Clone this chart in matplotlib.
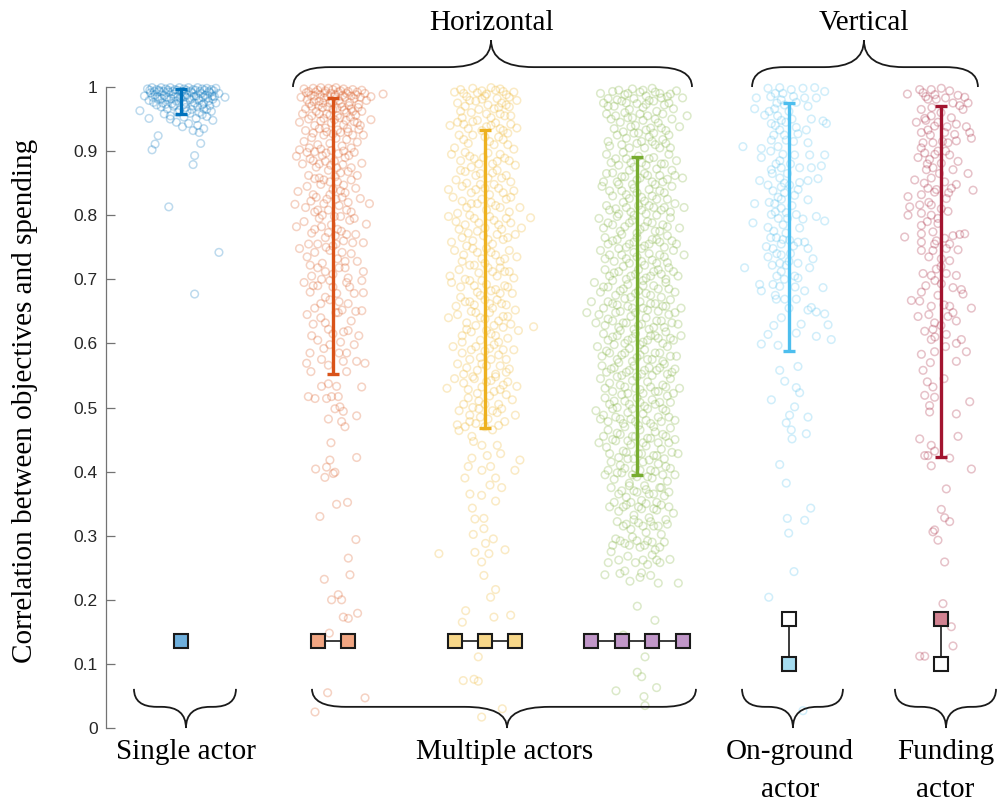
import numpy as np
import matplotlib
matplotlib.use("Agg")
import matplotlib.pyplot as plt
from matplotlib.path import Path
from matplotlib.patches import PathPatch

# group positions, colours and the plotted interval of each group
group_pos = [1, 2, 3, 4, 5, 6]
bar_colors = ["#0072BD", "#D95319", "#EDB120", "#77AC30", "#4DBEEE", "#A2142F"]
interval_low = [0.958, 0.552, 0.468, 0.395, 0.588, 0.423]
interval_high = [0.997, 0.983, 0.933, 0.891, 0.975, 0.970]

# scatter points per group as (x jitter, correlation)
single_pts = [
    (-0.22, 0.997), (-0.19, 0.999), (-0.16, 0.996), (-0.13, 0.999), (-0.10, 0.997), (-0.07, 0.999), (-0.04, 0.996),
    (-0.01, 0.999), (0.02, 0.997), (0.05, 0.999), (0.08, 0.996), (0.11, 0.999), (0.14, 0.997), (0.17, 0.998),
    (0.20, 0.996), (0.23, 0.998), (-0.24, 0.986), (-0.20, 0.991), (-0.17, 0.988), (-0.14, 0.993), (-0.11, 0.987),
    (-0.08, 0.992), (-0.05, 0.989), (-0.02, 0.985), (0.01, 0.993), (0.04, 0.988), (0.07, 0.991), (0.10, 0.986),
    (0.13, 0.990), (0.16, 0.987), (0.19, 0.991), (0.22, 0.985), (0.25, 0.990), (-0.21, 0.979), (-0.18, 0.976),
    (-0.15, 0.981), (-0.12, 0.975), (-0.09, 0.980), (-0.06, 0.974), (-0.03, 0.978), (0.00, 0.982), (0.03, 0.976),
    (0.06, 0.980), (0.09, 0.975), (0.12, 0.979), (0.15, 0.974), (0.18, 0.978), (0.21, 0.981), (0.23, 0.975),
    (-0.13, 0.969), (-0.09, 0.966), (-0.05, 0.970), (-0.01, 0.964), (0.03, 0.968), (0.07, 0.965), (0.11, 0.969),
    (0.15, 0.966), (0.19, 0.971), (-0.11, 0.958), (-0.07, 0.955), (0.02, 0.953), (0.06, 0.959), (0.10, 0.951),
    (0.14, 0.957), (0.17, 0.954), (0.20, 0.962), (0.21, 0.948), (-0.03, 0.945), (0.01, 0.938), (0.05, 0.943),
    (0.08, 0.932), (0.11, 0.940), (0.15, 0.935), (-0.07, 0.950), (0.12, 0.929), (-0.27, 0.963), (-0.21, 0.951),
    (-0.15, 0.924), (-0.17, 0.911), (-0.19, 0.902), (0.13, 0.912), (0.09, 0.893), (0.08, 0.879), (-0.08, 0.813),
    (0.25, 0.742), (0.09, 0.677), (0.29, 0.984),
    (-0.205, 0.995), (-0.175, 0.993), (-0.145, 0.995), (-0.115, 0.993), (-0.085, 0.995), (-0.055, 0.993),
    (-0.025, 0.995), (0.005, 0.993), (0.035, 0.995), (0.065, 0.993), (0.095, 0.995), (0.125, 0.993),
    (0.155, 0.995), (0.185, 0.993), (0.215, 0.994), (-0.185, 0.984), (-0.155, 0.985), (-0.125, 0.982),
    (-0.095, 0.984), (-0.065, 0.982), (-0.035, 0.985), (-0.005, 0.983), (0.025, 0.985), (0.055, 0.983),
    (0.085, 0.985), (0.115, 0.982), (0.145, 0.984), (0.175, 0.983), (0.205, 0.986), (-0.16, 0.972),
    (-0.10, 0.973), (-0.04, 0.972), (0.02, 0.973), (0.08, 0.971), (0.14, 0.972), (0.17, 0.965),
    (-0.02, 0.960), (0.04, 0.962), (0.12, 0.960),
]

orange_pts = [
    (-0.19, 0.997), (-0.16, 0.993), (-0.13, 0.998), (-0.10, 0.995), (-0.08, 0.999), (-0.05, 0.994), (-0.03, 0.998),
    (0.00, 0.996), (0.02, 0.999), (0.05, 0.994), (0.07, 0.997), (0.10, 0.993), (0.13, 0.996), (0.16, 0.992),
    (0.19, 0.995), (0.21, 0.990), (0.33, 0.989), (-0.21, 0.984), (-0.17, 0.980), (-0.12, 0.986), (-0.09, 0.978),
    (-0.06, 0.983), (-0.02, 0.975), (0.01, 0.985), (0.04, 0.979), (0.08, 0.984), (0.11, 0.976), (0.14, 0.982),
    (0.17, 0.973), (0.22, 0.979), (0.25, 0.985), (-0.18, 0.966), (-0.14, 0.970), (-0.11, 0.962), (-0.07, 0.968),
    (-0.04, 0.958), (0.00, 0.965), (0.03, 0.955), (0.06, 0.969), (0.09, 0.960), (0.12, 0.966), (0.15, 0.956),
    (0.19, 0.962), (0.25, 0.949), (-0.22, 0.945), (-0.16, 0.950), (-0.12, 0.940), (-0.08, 0.947), (-0.05, 0.936),
    (-0.01, 0.944), (0.03, 0.933), (0.07, 0.941), (0.10, 0.930), (0.14, 0.946), (0.17, 0.934), (0.20, 0.925),
    (-0.24, 0.892), (-0.22, 0.902), (-0.19, 0.915), (-0.14, 0.921), (-0.10, 0.910), (-0.06, 0.925), (-0.02, 0.912),
    (0.02, 0.920), (0.06, 0.908), (0.09, 0.918), (0.12, 0.905), (0.16, 0.914), (-0.17, 0.898), (-0.20, 0.880),
    (-0.15, 0.888), (-0.11, 0.875), (-0.07, 0.893), (-0.03, 0.870), (0.01, 0.884), (0.05, 0.866), (0.08, 0.890),
    (0.12, 0.874), (0.16, 0.862), (0.19, 0.881), (-0.09, 0.858), (0.03, 0.852), (-0.25, 0.817), (-0.23, 0.837),
    (-0.17, 0.845), (-0.13, 0.832), (-0.08, 0.848), (-0.04, 0.825), (0.00, 0.840), (0.04, 0.815), (0.08, 0.835),
    (0.12, 0.805), (0.15, 0.842), (0.24, 0.818), (-0.10, 0.808), (0.06, 0.828), (-0.18, 0.812), (0.18, 0.826),
    (-0.24, 0.782), (-0.19, 0.790), (-0.14, 0.772), (-0.09, 0.795), (-0.05, 0.765), (-0.01, 0.785), (0.03, 0.778),
    (0.07, 0.760), (0.11, 0.792), (0.15, 0.770), (0.22, 0.786), (-0.16, 0.755), (0.00, 0.752), (0.05, 0.798),
    (0.13, 0.757), (0.20, 0.757), (-0.22, 0.748), (-0.17, 0.735), (-0.12, 0.742), (-0.07, 0.725), (-0.02, 0.745),
    (0.03, 0.732), (0.08, 0.718), (0.12, 0.740), (0.16, 0.728), (0.20, 0.712), (-0.14, 0.705), (0.00, 0.708),
    (0.10, 0.702), (-0.19, 0.695), (-0.15, 0.680), (-0.10, 0.690), (-0.05, 0.672), (0.00, 0.688), (0.04, 0.665),
    (0.09, 0.695), (0.14, 0.678), (0.19, 0.698), (-0.12, 0.655), (0.06, 0.652), (0.20, 0.679), (-0.17, 0.645),
    (-0.13, 0.630), (-0.08, 0.640), (-0.03, 0.622), (0.02, 0.648), (0.07, 0.618), (0.12, 0.635), (0.17, 0.612),
    (-0.10, 0.605), (0.05, 0.602), (0.19, 0.651), (-0.06, 0.592),
    (-0.175, 0.991), (-0.145, 0.987), (-0.115, 0.992), (-0.085, 0.988), (-0.055, 0.991), (-0.035, 0.985),
    (-0.015, 0.990), (0.015, 0.988), (0.035, 0.992), (0.065, 0.987), (0.09, 0.990), (0.12, 0.986),
    (0.15, 0.988), (0.18, 0.984), (-0.155, 0.974), (-0.125, 0.977), (-0.095, 0.971), (-0.065, 0.975),
    (-0.035, 0.969), (-0.005, 0.976), (0.025, 0.967), (0.05, 0.974), (0.075, 0.964), (0.105, 0.971),
    (0.13, 0.962), (0.165, 0.968), (-0.20, 0.958), (-0.14, 0.955), (-0.09, 0.958), (-0.06, 0.951),
    (-0.02, 0.956), (0.01, 0.949), (0.045, 0.952), (0.085, 0.948), (0.115, 0.953), (0.16, 0.944),
    (-0.18, 0.932), (-0.13, 0.928), (-0.09, 0.935), (-0.04, 0.930), (0.00, 0.927), (0.05, 0.929),
    (0.095, 0.935), (0.13, 0.925), (0.18, 0.940), (-0.155, 0.905), (-0.12, 0.899), (-0.08, 0.903),
    (-0.045, 0.897), (-0.01, 0.901), (0.035, 0.896), (0.07, 0.900), (0.105, 0.893), (0.14, 0.898),
    (-0.13, 0.885), (-0.09, 0.880), (-0.05, 0.884), (-0.015, 0.878), (0.025, 0.874), (0.065, 0.879),
    (0.10, 0.868), (-0.16, 0.862), (-0.12, 0.857), (-0.06, 0.855), (-0.02, 0.852), (0.015, 0.860),
    (0.07, 0.847), (0.12, 0.855), (-0.145, 0.822), (-0.11, 0.828), (-0.06, 0.818), (-0.02, 0.832),
    (0.02, 0.825), (0.05, 0.838), (0.10, 0.820), (-0.12, 0.805), (-0.07, 0.800), (-0.03, 0.808),
    (0.01, 0.798), (0.09, 0.808), (0.14, 0.795), (-0.12, 0.778), (-0.075, 0.782), (-0.03, 0.773),
    (0.015, 0.768), (0.055, 0.775), (0.09, 0.770), (-0.10, 0.755), (-0.045, 0.750), (0.02, 0.755),
    (0.06, 0.742), (-0.15, 0.722), (-0.10, 0.718), (-0.05, 0.712), (0.04, 0.718), (0.08, 0.728),
    (-0.13, 0.690), (-0.075, 0.700), (-0.02, 0.698), (0.025, 0.678), (0.11, 0.688), (-0.08, 0.662),
    (-0.02, 0.668), (0.035, 0.648), (0.10, 0.662), (0.15, 0.650), (-0.05, 0.632), (0.00, 0.615),
    (0.10, 0.620), (-0.14, 0.612), (0.09, 0.585), (0.14, 0.598), (-0.02, 0.598), (0.04, 0.585),
    (-0.173, 0.569), (-0.151, 0.585), (-0.145, 0.556), (-0.075, 0.575), (-0.030, 0.566), (0.068, 0.572),
    (0.090, 0.556), (0.156, 0.572), (0.211, 0.569), (-0.075, 0.533), (-0.030, 0.537), (0.024, 0.533),
    (-0.162, 0.517), (-0.118, 0.514), (-0.042, 0.514), (-0.009, 0.517), (0.035, 0.517), (0.046, 0.501),
    (0.013, 0.498), (0.068, 0.494), (0.189, 0.532), (-0.030, 0.482), (0.057, 0.478), (0.079, 0.470),
    (0.156, 0.487), (-0.013, 0.445), (-0.020, 0.418), (0.156, 0.422), (-0.114, 0.404), (-0.042, 0.407),
    (0.013, 0.399), (-0.053, 0.391), (0.002, 0.397), (0.024, 0.349), (0.096, 0.352), (-0.086, 0.330),
    (0.151, 0.294), (0.101, 0.265), (0.112, 0.239), (-0.057, 0.232), (0.035, 0.208), (-0.009, 0.200),
    (0.057, 0.200), (0.162, 0.179), (0.068, 0.173), (0.101, 0.171), (-0.024, 0.148), (-0.035, 0.055),
    (0.211, 0.047), (-0.118, 0.025),
]

yellow_pts = [
    (-0.20, 0.992), (-0.16, 0.996), (-0.08, 0.998), (-0.02, 0.994), (0.04, 0.999), (0.07, 0.995), (0.10, 0.997),
    (0.14, 0.988), (0.19, 0.992), (-0.12, 0.985), (0.00, 0.986), (0.08, 0.982), (-0.18, 0.975), (-0.13, 0.970),
    (-0.06, 0.978), (0.02, 0.972), (0.06, 0.966), (0.11, 0.975), (0.16, 0.969), (0.21, 0.979), (-0.09, 0.960),
    (0.13, 0.955), (-0.15, 0.952), (0.04, 0.952), (-0.23, 0.940), (-0.18, 0.945), (-0.11, 0.935), (-0.05, 0.948),
    (0.01, 0.938), (0.07, 0.944), (0.12, 0.932), (0.17, 0.942), (0.21, 0.936), (-0.14, 0.918), (-0.08, 0.925),
    (0.03, 0.915), (0.09, 0.922), (0.15, 0.910), (-0.20, 0.905), (0.19, 0.903), (-0.22, 0.895), (-0.16, 0.885),
    (-0.10, 0.892), (-0.04, 0.880), (0.02, 0.897), (0.08, 0.884), (0.13, 0.889), (0.20, 0.878), (-0.13, 0.868),
    (-0.06, 0.862), (0.05, 0.866), (0.11, 0.858), (0.17, 0.852), (-0.19, 0.855), (-0.24, 0.840), (-0.21, 0.828),
    (-0.15, 0.845), (-0.09, 0.835), (-0.03, 0.848), (0.03, 0.832), (0.09, 0.842), (0.14, 0.825), (0.19, 0.838),
    (-0.12, 0.812), (-0.05, 0.818), (0.01, 0.808), (0.07, 0.815), (0.16, 0.805), (0.23, 0.812), (-0.18, 0.803),
    (-0.24, 0.798), (-0.19, 0.790), (-0.13, 0.785), (-0.07, 0.795), (0.00, 0.780), (0.06, 0.792), (0.11, 0.778),
    (0.17, 0.788), (0.30, 0.796), (0.24, 0.780), (-0.15, 0.765), (-0.08, 0.760), (-0.01, 0.768), (0.05, 0.755),
    (0.12, 0.762), (0.20, 0.770), (-0.22, 0.758), (-0.20, 0.745), (-0.14, 0.738), (-0.08, 0.748), (-0.02, 0.732),
    (0.04, 0.742), (0.10, 0.728), (0.16, 0.745), (0.21, 0.735), (-0.17, 0.715), (-0.10, 0.722), (-0.04, 0.710),
    (0.02, 0.718), (0.08, 0.705), (0.13, 0.712), (0.19, 0.702), (-0.23, 0.705), (-0.22, 0.695), (-0.16, 0.688),
    (-0.10, 0.698), (-0.05, 0.680), (0.01, 0.692), (0.07, 0.684), (0.13, 0.690), (0.18, 0.678), (-0.13, 0.665),
    (-0.07, 0.660), (0.00, 0.668), (0.05, 0.655), (0.11, 0.662), (0.20, 0.652), (-0.19, 0.658), (-0.24, 0.640),
    (-0.18, 0.645), (-0.12, 0.632), (-0.06, 0.648), (0.00, 0.638), (0.06, 0.628), (0.12, 0.642), (0.17, 0.630),
    (0.32, 0.626), (-0.15, 0.612), (-0.09, 0.618), (-0.03, 0.605), (0.04, 0.615), (0.09, 0.602), (0.15, 0.608),
    (0.22, 0.620), (-0.21, 0.595), (-0.15, 0.585), (-0.09, 0.590), (-0.03, 0.578), (0.03, 0.592), (0.09, 0.582),
    (0.14, 0.575), (0.19, 0.590), (-0.12, 0.562), (-0.05, 0.558), (0.01, 0.565), (0.07, 0.552), (0.16, 0.560),
    (-0.18, 0.568), (-0.20, 0.545), (-0.14, 0.538), (-0.08, 0.548), (-0.02, 0.532), (0.04, 0.542), (0.10, 0.528),
    (0.15, 0.540), (0.21, 0.533), (-0.11, 0.515), (-0.04, 0.510), (0.03, 0.518), (0.09, 0.505), (0.18, 0.512),
    (-0.25, 0.530), (-0.17, 0.495), (-0.10, 0.488), (-0.04, 0.498), (0.02, 0.482), (0.08, 0.492), (0.13, 0.478),
    (0.20, 0.488), (-0.13, 0.470), (-0.06, 0.475), (0.05, 0.465),
    (-0.14, 0.990), (-0.05, 0.991), (0.01, 0.989), (0.12, 0.993), (0.16, 0.984), (-0.10, 0.979), (-0.02, 0.981),
    (0.09, 0.968), (0.14, 0.972), (-0.16, 0.962), (-0.04, 0.965), (0.01, 0.958), (0.10, 0.958), (0.17, 0.955),
    (-0.14, 0.942), (-0.08, 0.946), (-0.02, 0.932), (0.04, 0.940), (0.10, 0.935), (0.15, 0.928), (-0.17, 0.925),
    (-0.11, 0.912), (0.00, 0.922), (0.06, 0.910), (0.12, 0.918), (-0.13, 0.898), (-0.07, 0.888), (-0.01, 0.890),
    (0.05, 0.880), (0.10, 0.895), (0.16, 0.885), (-0.16, 0.870), (-0.09, 0.875), (-0.03, 0.865), (0.02, 0.858),
    (0.08, 0.870), (0.14, 0.862), (-0.12, 0.850), (-0.06, 0.840), (0.00, 0.842), (0.06, 0.848), (0.12, 0.835),
    (0.17, 0.828), (-0.15, 0.822), (-0.09, 0.818), (-0.02, 0.825), (0.04, 0.820), (0.10, 0.812), (-0.10, 0.800),
    (-0.04, 0.788), (0.03, 0.798), (0.09, 0.785), (0.14, 0.795), (-0.17, 0.778), (-0.11, 0.772), (-0.05, 0.775),
    (0.02, 0.762), (0.08, 0.770), (0.15, 0.765), (-0.12, 0.752), (-0.05, 0.742), (0.01, 0.748), (0.07, 0.738),
    (0.13, 0.732), (-0.15, 0.728), (-0.07, 0.722), (0.00, 0.725), (0.05, 0.712), (0.10, 0.718), (0.16, 0.712),
    (-0.13, 0.700), (-0.07, 0.690), (-0.02, 0.698), (0.04, 0.682), (0.10, 0.678), (0.15, 0.688), (-0.16, 0.672),
    (-0.10, 0.665), (-0.03, 0.675), (0.03, 0.662), (0.08, 0.668), (0.14, 0.660), (-0.09, 0.650), (-0.03, 0.640),
    (0.03, 0.648), (0.09, 0.635), (0.15, 0.642), (-0.12, 0.622), (-0.06, 0.628), (0.01, 0.620), (0.07, 0.612),
    (0.12, 0.625), (-0.15, 0.602), (-0.06, 0.595), (0.00, 0.588), (0.06, 0.598), (0.12, 0.590), (-0.10, 0.575),
    (-0.02, 0.568), (0.04, 0.575), (0.10, 0.565), (0.14, 0.555), (-0.14, 0.552), (-0.07, 0.545), (0.01, 0.540),
    (0.07, 0.548), (0.12, 0.535), (-0.11, 0.528), (-0.05, 0.522), (0.06, 0.525), (0.14, 0.520), (-0.14, 0.505),
    (-0.08, 0.500), (0.00, 0.505), (0.05, 0.495), (0.11, 0.498), (-0.10, 0.478), (0.00, 0.470), (0.09, 0.472),
    (-0.03, 0.485),
    (-0.182, 0.473), (-0.171, 0.464), (-0.086, 0.455), (-0.075, 0.447), (-0.020, 0.441), (0.081, 0.441),
    (-0.086, 0.421), (0.015, 0.425), (0.103, 0.428), (0.230, 0.418), (-0.110, 0.408), (-0.020, 0.402),
    (0.037, 0.408), (0.070, 0.390), (0.197, 0.402), (-0.132, 0.390), (0.033, 0.379), (0.110, 0.375),
    (-0.099, 0.365), (-0.022, 0.363), (0.070, 0.354), (-0.083, 0.343), (-0.066, 0.326), (-0.007, 0.327),
    (-0.007, 0.311), (-0.077, 0.302), (0.055, 0.295), (0.004, 0.288), (-0.303, 0.272), (-0.066, 0.274),
    (0.026, 0.272), (0.132, 0.278), (-0.022, 0.259), (-0.007, 0.238), (0.037, 0.204), (0.070, 0.216),
    (-0.127, 0.183), (-0.149, 0.165), (0.059, 0.173), (0.169, 0.176), (-0.044, 0.111), (-0.143, 0.074),
    (-0.072, 0.076), (-0.044, 0.073), (0.114, 0.030), (-0.022, 0.017),
]

green_pts = [
    (-0.24, 0.990), (-0.19, 0.982), (-0.12, 0.995), (-0.08, 0.988), (-0.03, 0.997), (0.02, 0.992), (0.06, 0.986),
    (0.10, 0.998), (0.15, 0.990), (0.20, 0.985), (0.26, 0.994), (0.30, 0.983), (-0.22, 0.975), (-0.15, 0.970),
    (-0.10, 0.978), (-0.05, 0.965), (0.00, 0.974), (0.04, 0.968), (0.08, 0.979), (0.13, 0.962), (0.18, 0.972),
    (0.24, 0.966), (0.33, 0.955), (-0.17, 0.950), (-0.11, 0.945), (-0.06, 0.952), (-0.01, 0.940), (0.04, 0.948),
    (0.09, 0.936), (0.14, 0.944), (0.19, 0.932), (0.28, 0.938), (-0.13, 0.925), (-0.07, 0.920), (-0.02, 0.928),
    (0.03, 0.915), (0.08, 0.922), (0.12, 0.910), (0.17, 0.918), (0.22, 0.905), (-0.18, 0.908), (-0.20, 0.895),
    (-0.14, 0.888), (-0.09, 0.898), (-0.04, 0.882), (0.01, 0.892), (0.06, 0.878), (0.11, 0.890), (0.16, 0.880),
    (0.21, 0.895), (0.26, 0.885), (-0.16, 0.866), (-0.10, 0.860), (-0.05, 0.870), (0.00, 0.855), (0.05, 0.865),
    (0.10, 0.852), (0.15, 0.862), (0.20, 0.856), (0.30, 0.858), (-0.22, 0.852), (-0.23, 0.845), (-0.18, 0.838),
    (-0.12, 0.848), (-0.07, 0.832), (-0.02, 0.842), (0.03, 0.828), (0.08, 0.840), (0.13, 0.825), (0.18, 0.835),
    (0.23, 0.845), (-0.20, 0.815), (-0.14, 0.810), (-0.09, 0.820), (-0.04, 0.805), (0.01, 0.815), (0.06, 0.802),
    (0.11, 0.812), (0.16, 0.808), (0.25, 0.818), (0.31, 0.812), (-0.25, 0.795), (-0.19, 0.788), (-0.13, 0.798),
    (-0.08, 0.782), (-0.03, 0.792), (0.02, 0.778), (0.07, 0.790), (0.12, 0.775), (0.17, 0.785), (0.22, 0.796),
    (0.28, 0.780), (-0.21, 0.765), (-0.16, 0.760), (-0.10, 0.770), (-0.05, 0.755), (0.00, 0.765), (0.05, 0.752),
    (0.10, 0.762), (0.15, 0.758), (0.20, 0.768), (0.26, 0.755), (-0.24, 0.745), (-0.18, 0.738), (-0.12, 0.748),
    (-0.07, 0.732), (-0.02, 0.742), (0.03, 0.728), (0.08, 0.740), (0.13, 0.725), (0.18, 0.735), (0.24, 0.745),
    (0.31, 0.738), (-0.21, 0.715), (-0.15, 0.710), (-0.09, 0.720), (-0.04, 0.705), (0.01, 0.715), (0.06, 0.702),
    (0.11, 0.712), (0.16, 0.708), (0.21, 0.718), (0.27, 0.705), (-0.28, 0.695), (-0.22, 0.688), (-0.16, 0.698),
    (-0.11, 0.682), (-0.06, 0.692), (-0.01, 0.678), (0.04, 0.690), (0.09, 0.675), (0.14, 0.685), (0.19, 0.695),
    (0.25, 0.680), (-0.30, 0.665), (-0.19, 0.665), (-0.13, 0.660), (-0.08, 0.670), (-0.03, 0.655), (0.02, 0.665),
    (0.07, 0.652), (0.12, 0.662), (0.17, 0.658), (0.22, 0.668), (0.29, 0.655), (-0.33, 0.648), (-0.25, 0.645),
    (-0.19, 0.638), (-0.14, 0.648), (-0.09, 0.632), (-0.04, 0.642), (0.01, 0.628), (0.06, 0.640), (0.11, 0.625),
    (0.16, 0.635), (0.21, 0.645), (0.27, 0.630), (-0.22, 0.615), (-0.16, 0.610), (-0.11, 0.620), (-0.06, 0.605),
    (-0.01, 0.615), (0.04, 0.602), (0.09, 0.612), (0.14, 0.608), (0.19, 0.618), (0.24, 0.605), (-0.26, 0.595),
    (-0.20, 0.588), (-0.15, 0.598), (-0.10, 0.582), (-0.05, 0.592), (0.00, 0.578), (0.05, 0.590), (0.10, 0.575),
    (0.15, 0.585), (0.20, 0.595), (0.26, 0.580), (-0.23, 0.565), (-0.17, 0.560), (-0.12, 0.570), (-0.07, 0.555),
    (-0.02, 0.565), (0.03, 0.552), (0.08, 0.562), (0.13, 0.558), (0.18, 0.568), (0.23, 0.555), (-0.24, 0.545),
    (-0.18, 0.538), (-0.13, 0.548), (-0.08, 0.532), (-0.03, 0.542), (0.02, 0.528), (0.07, 0.540), (0.12, 0.525),
    (0.17, 0.535), (0.22, 0.545), (0.28, 0.530), (-0.21, 0.515), (-0.15, 0.510), (-0.10, 0.520), (-0.05, 0.505),
    (0.00, 0.515), (0.05, 0.502), (0.10, 0.512), (0.15, 0.508), (0.20, 0.518), (-0.27, 0.495), (-0.22, 0.488),
    (-0.16, 0.498), (-0.11, 0.482), (-0.06, 0.492), (-0.01, 0.478), (0.04, 0.490), (0.09, 0.475), (0.14, 0.485),
    (0.19, 0.495), (0.25, 0.480), (-0.19, 0.465), (-0.13, 0.460), (-0.08, 0.470), (-0.03, 0.455), (0.02, 0.465),
    (0.07, 0.452), (0.12, 0.462), (0.17, 0.458), (0.22, 0.468), (-0.25, 0.445), (-0.20, 0.438), (-0.14, 0.448),
    (-0.09, 0.432), (-0.04, 0.442), (0.01, 0.428), (0.06, 0.440), (0.11, 0.425), (0.16, 0.435), (0.21, 0.445),
    (0.27, 0.428), (-0.17, 0.415), (-0.11, 0.410), (-0.06, 0.420), (-0.01, 0.405), (0.04, 0.415), (0.09, 0.402),
    (0.14, 0.412), (0.19, 0.408), (-0.21, 0.395), (-0.15, 0.388), (-0.10, 0.398), (-0.05, 0.382), (0.00, 0.392),
    (0.05, 0.378), (0.10, 0.390), (0.15, 0.375), (0.20, 0.385), (0.25, 0.395), (-0.12, 0.365), (-0.07, 0.360),
    (-0.02, 0.370), (0.03, 0.355), (0.08, 0.365), (0.13, 0.352), (0.18, 0.362), (-0.18, 0.345), (-0.12, 0.338),
    (-0.07, 0.348), (-0.02, 0.332), (0.03, 0.342), (0.08, 0.328), (0.13, 0.340), (0.19, 0.325), (0.24, 0.335),
    (-0.09, 0.315), (-0.04, 0.310), (0.01, 0.320), (0.06, 0.305), (0.11, 0.315), (0.16, 0.302), (-0.14, 0.295),
    (-0.08, 0.288), (-0.03, 0.298), (0.02, 0.282), (0.07, 0.292), (0.12, 0.278), (0.18, 0.290), (-0.17, 0.275),
    (-0.06, 0.268), (0.04, 0.262), (0.10, 0.270),
    (-0.16, 0.993), (-0.06, 0.990), (0.04, 0.995), (0.12, 0.992), (0.22, 0.989), (-0.19, 0.970), (-0.13, 0.980),
    (-0.07, 0.975), (-0.02, 0.982), (0.06, 0.973), (0.11, 0.978), (0.16, 0.983), (0.21, 0.975), (-0.20, 0.958),
    (-0.14, 0.955), (-0.08, 0.960), (-0.03, 0.952), (0.02, 0.958), (0.07, 0.955), (0.12, 0.950), (0.17, 0.958),
    (0.23, 0.950), (-0.15, 0.935), (-0.09, 0.930), (-0.04, 0.938), (0.01, 0.928), (0.06, 0.933), (0.11, 0.928),
    (0.16, 0.936), (0.21, 0.925), (-0.19, 0.915), (-0.10, 0.910), (-0.05, 0.905), (0.00, 0.912), (0.05, 0.905),
    (0.10, 0.915), (0.15, 0.905), (0.19, 0.912), (-0.17, 0.882), (-0.12, 0.878), (-0.07, 0.888), (-0.02, 0.875),
    (0.03, 0.882), (0.08, 0.888), (0.13, 0.872), (0.18, 0.880), (0.23, 0.870), (-0.20, 0.865), (-0.13, 0.852),
    (-0.08, 0.860), (-0.03, 0.848), (0.02, 0.858), (0.07, 0.862), (0.12, 0.848), (0.17, 0.852), (0.25, 0.862),
    (-0.16, 0.830), (-0.10, 0.838), (-0.05, 0.826), (0.00, 0.835), (0.05, 0.822), (0.10, 0.830), (0.15, 0.838),
    (0.20, 0.825), (-0.18, 0.808), (-0.12, 0.802), (-0.07, 0.812), (-0.02, 0.800), (0.03, 0.808), (0.08, 0.815),
    (0.13, 0.800), (0.18, 0.812), (0.22, 0.805), (-0.22, 0.780), (-0.16, 0.785), (-0.11, 0.775), (-0.05, 0.788),
    (0.00, 0.772), (0.05, 0.782), (0.10, 0.788), (0.15, 0.775), (0.20, 0.782), (-0.19, 0.755), (-0.13, 0.762),
    (-0.07, 0.750), (-0.02, 0.758), (0.03, 0.748), (0.08, 0.755), (0.13, 0.762), (0.18, 0.750), (0.23, 0.760),
    (-0.21, 0.732), (-0.15, 0.728), (-0.10, 0.738), (-0.05, 0.725), (0.00, 0.735), (0.05, 0.722), (0.10, 0.730),
    (0.15, 0.738), (0.20, 0.726), (-0.18, 0.705), (-0.12, 0.712), (-0.07, 0.700), (-0.01, 0.708), (0.04, 0.698),
    (0.09, 0.705), (0.14, 0.715), (0.19, 0.700), (0.24, 0.712), (-0.24, 0.680), (-0.19, 0.688), (-0.14, 0.675),
    (-0.09, 0.685), (-0.04, 0.672), (0.01, 0.682), (0.06, 0.678), (0.11, 0.690), (0.16, 0.672), (0.21, 0.685),
    (-0.22, 0.655), (-0.16, 0.662), (-0.11, 0.650), (-0.06, 0.658), (-0.01, 0.648), (0.04, 0.655), (0.09, 0.662),
    (0.14, 0.650), (0.19, 0.658), (0.25, 0.648), (-0.27, 0.632), (-0.21, 0.628), (-0.16, 0.635), (-0.12, 0.625),
    (-0.07, 0.632), (-0.02, 0.622), (0.03, 0.630), (0.08, 0.622), (0.13, 0.635), (0.18, 0.625), (0.23, 0.632),
    (-0.19, 0.605), (-0.13, 0.612), (-0.08, 0.600), (-0.03, 0.608), (0.02, 0.598), (0.07, 0.605), (0.12, 0.612),
    (0.17, 0.600), (0.22, 0.608), (0.29, 0.612), (-0.23, 0.580), (-0.18, 0.585), (-0.13, 0.575), (-0.08, 0.585),
    (-0.03, 0.572), (0.02, 0.582), (0.07, 0.575), (0.12, 0.585), (0.17, 0.572), (0.22, 0.580), (-0.20, 0.555),
    (-0.15, 0.562), (-0.10, 0.550), (-0.05, 0.558), (0.00, 0.548), (0.05, 0.558), (0.10, 0.550), (0.15, 0.562),
    (0.20, 0.552), (0.25, 0.560), (-0.21, 0.530), (-0.16, 0.525), (-0.11, 0.535), (-0.06, 0.522), (-0.01, 0.530),
    (0.04, 0.522), (0.09, 0.532), (0.14, 0.525), (0.19, 0.532), (0.24, 0.522), (-0.18, 0.505), (-0.13, 0.500),
    (-0.08, 0.510), (-0.03, 0.498), (0.02, 0.508), (0.07, 0.498), (0.12, 0.505), (0.17, 0.498), (0.22, 0.508),
    (-0.24, 0.482), (-0.19, 0.478), (-0.14, 0.485), (-0.09, 0.475), (-0.04, 0.482), (0.01, 0.472), (0.06, 0.480),
    (0.11, 0.470), (0.16, 0.478), (0.21, 0.485), (-0.22, 0.455), (-0.16, 0.450), (-0.11, 0.458), (-0.06, 0.448),
    (-0.01, 0.455), (0.04, 0.445), (0.09, 0.452), (0.14, 0.445), (0.19, 0.455), (0.25, 0.450), (-0.18, 0.428),
    (-0.12, 0.422), (-0.07, 0.430), (-0.02, 0.420), (0.03, 0.428), (0.08, 0.418), (0.13, 0.425), (0.18, 0.420),
    (0.23, 0.430), (-0.19, 0.402), (-0.13, 0.398), (-0.08, 0.405), (-0.03, 0.395), (0.02, 0.402), (0.07, 0.392),
    (0.12, 0.400), (0.17, 0.395), (0.22, 0.405), (-0.17, 0.375), (-0.10, 0.370), (-0.05, 0.378), (0.00, 0.368),
    (0.06, 0.372), (0.11, 0.365), (0.16, 0.375), (0.21, 0.368), (-0.15, 0.352), (-0.09, 0.345), (-0.04, 0.352),
    (0.01, 0.345), (0.06, 0.350), (0.11, 0.342), (0.16, 0.348), (0.21, 0.345), (-0.13, 0.322), (-0.07, 0.318),
    (-0.02, 0.325), (0.04, 0.315), (0.09, 0.322), (0.14, 0.315), (0.20, 0.318), (-0.11, 0.292), (-0.05, 0.285),
    (0.00, 0.292), (0.05, 0.285), (0.10, 0.290), (0.15, 0.282), (-0.16, 0.285), (-0.12, 0.262), (-0.01, 0.258),
    (0.07, 0.255), (0.13, 0.262), (-0.08, 0.245), (0.03, 0.242), (0.09, 0.238),
    (0.002, 0.190), (0.118, 0.168), (-0.090, 0.145), (0.053, 0.111), (0.002, 0.087), (0.031, 0.080),
    (-0.138, 0.058), (0.129, 0.063), (0.046, 0.049), (0.053, 0.035), (0.140, 0.226), (0.272, 0.226),
    (0.151, 0.258), (0.217, 0.263), (-0.189, 0.258), (-0.211, 0.239), (-0.112, 0.241), (-0.046, 0.229),
    (0.020, 0.235),
]

blue_pts = [
    (-0.215, 0.983), (-0.138, 0.998), (-0.061, 0.999), (0.015, 0.996), (0.092, 0.998), (0.169, 0.999),
    (0.235, 0.993), (0.180, 0.983), (0.103, 0.983), (-0.226, 0.966), (-0.160, 0.956), (-0.094, 0.966),
    (-0.051, 0.980), (0.048, 0.976), (0.125, 0.970), (0.147, 0.950), (0.224, 0.947), (0.246, 0.943),
    (-0.116, 0.943), (-0.061, 0.933), (0.048, 0.937), (0.114, 0.933), (-0.303, 0.907), (-0.182, 0.904),
    (-0.116, 0.917), (-0.072, 0.907), (-0.018, 0.917), (0.059, 0.927), (0.125, 0.913), (-0.182, 0.890),
    (0.037, 0.894), (0.136, 0.894), (0.235, 0.894), (-0.116, 0.871), (-0.051, 0.874), (0.070, 0.874),
    (0.147, 0.874), (0.213, 0.877), (-0.193, 0.854), (-0.138, 0.847), (-0.051, 0.844), (0.004, 0.847),
    (0.070, 0.851), (0.191, 0.857), (0.125, 0.854), (-0.072, 0.828), (0.037, 0.831), (-0.226, 0.818),
    (-0.094, 0.818), (0.125, 0.824), (-0.051, 0.811), (-0.237, 0.788), (-0.116, 0.801), (-0.018, 0.804),
    (0.048, 0.801), (0.092, 0.794), (0.180, 0.798), (0.235, 0.791), (-0.138, 0.781), (-0.039, 0.785),
    (-0.083, 0.765), (0.004, 0.761), (0.103, 0.758), (-0.149, 0.751), (-0.105, 0.748), (-0.051, 0.755),
    (0.059, 0.758), (0.125, 0.748), (-0.051, 0.738), (-0.138, 0.735), (-0.292, 0.718), (-0.018, 0.722),
    (0.059, 0.725), (0.158, 0.732), (0.136, 0.718), (-0.051, 0.712), (-0.193, 0.692), (-0.105, 0.692),
    (-0.061, 0.689), (0.037, 0.705), (0.059, 0.702), (0.224, 0.687), (-0.182, 0.682), (-0.083, 0.669),
    (-0.028, 0.669), (0.048, 0.669), (0.103, 0.682), (0.125, 0.652), (0.147, 0.656), (0.180, 0.649),
    (0.235, 0.646), (0.257, 0.629), (0.278, 0.606), (0.180, 0.611), (0.048, 0.616), (-0.138, 0.614),
    (-0.182, 0.599), (-0.072, 0.597),
    (-0.090, 0.990), (-0.030, 0.972), (-0.075, 0.955), (-0.020, 0.945), (-0.100, 0.925), (-0.040, 0.895),
    (-0.085, 0.880), (-0.010, 0.865), (-0.060, 0.858), (-0.105, 0.838), (-0.030, 0.835), (-0.070, 0.795),
    (-0.100, 0.775), (-0.020, 0.772), (-0.060, 0.725), (0.010, 0.740), (-0.080, 0.705),
    (-0.12, 0.985), (-0.04, 0.990), (0.03, 0.985), (-0.08, 0.975), (0.00, 0.962), (-0.13, 0.962), (-0.05, 0.948),
    (0.02, 0.950), (-0.09, 0.940), (-0.03, 0.925), (0.03, 0.915), (-0.12, 0.900), (-0.06, 0.885), (0.01, 0.880),
    (-0.11, 0.865), (-0.03, 0.850), (0.06, 0.840), (-0.13, 0.820), (-0.05, 0.825), (0.02, 0.815), (-0.09, 0.805),
    (-0.01, 0.795), (0.07, 0.780), (-0.12, 0.765), (-0.04, 0.762), (0.03, 0.752), (-0.08, 0.740), (0.00, 0.728),
    (-0.11, 0.722), (-0.03, 0.700), (0.04, 0.688), (-0.09, 0.675), (0.00, 0.655), (-0.05, 0.640), (0.08, 0.630),
    (-0.10, 0.628),
    (-0.061, 0.558), (0.059, 0.564), (-0.028, 0.541), (-0.116, 0.512), (0.048, 0.531), (0.070, 0.523),
    (0.037, 0.501), (0.125, 0.485), (0.004, 0.488), (-0.018, 0.476), (0.015, 0.465), (0.114, 0.459),
    (0.020, 0.451), (-0.061, 0.411), (-0.018, 0.382), (0.143, 0.343), (0.103, 0.324), (-0.011, 0.327),
    (-0.002, 0.304), (0.033, 0.244), (-0.133, 0.204), (0.092, 0.027),
]

pink_pts = [
    (-0.221, 0.989), (-0.140, 0.996), (-0.118, 0.991), (-0.064, 0.996), (0.002, 0.998), (0.057, 0.994),
    (0.112, 0.987), (0.156, 0.984), (0.178, 0.975), (-0.086, 0.981), (-0.031, 0.981), (0.079, 0.975),
    (0.123, 0.971), (0.145, 0.965), (-0.162, 0.945), (-0.107, 0.951), (-0.064, 0.955), (0.068, 0.952),
    (0.101, 0.942), (0.167, 0.938), (0.189, 0.929), (0.200, 0.920), (-0.129, 0.929), (-0.086, 0.933),
    (-0.042, 0.939), (0.024, 0.929), (0.090, 0.926), (-0.118, 0.913), (-0.053, 0.913), (0.046, 0.913),
    (0.101, 0.916), (-0.107, 0.897), (-0.020, 0.900), (0.057, 0.894), (-0.151, 0.890), (-0.075, 0.887),
    (0.002, 0.881), (0.112, 0.884), (-0.096, 0.871), (-0.053, 0.874), (0.079, 0.871), (0.178, 0.865),
    (-0.173, 0.855), (-0.064, 0.858), (0.024, 0.852), (0.101, 0.848), (0.211, 0.839), (-0.086, 0.842),
    (0.068, 0.842), (-0.217, 0.829), (-0.129, 0.832), (-0.042, 0.836), (0.035, 0.826), (-0.206, 0.813),
    (-0.140, 0.816), (-0.064, 0.816), (0.002, 0.810), (-0.217, 0.800), (-0.129, 0.803), (-0.064, 0.800),
    (0.046, 0.806), (-0.129, 0.784), (-0.020, 0.787), (-0.239, 0.766), (-0.129, 0.771), (-0.053, 0.774),
    (0.024, 0.764), (0.079, 0.768), (0.123, 0.770), (0.156, 0.771), (-0.129, 0.758), (-0.042, 0.755),
    (0.057, 0.755), (-0.129, 0.745), (-0.053, 0.745), (0.035, 0.748), (0.112, 0.746), (0.002, 0.732),
    (0.057, 0.729), (-0.031, 0.716), (-0.118, 0.709), (-0.064, 0.706), (0.035, 0.709), (0.101, 0.706),
    (0.002, 0.693), (0.079, 0.687), (0.134, 0.684), (0.145, 0.677), (-0.129, 0.680), (-0.195, 0.667),
    (-0.140, 0.666), (-0.064, 0.658), (0.057, 0.658), (0.079, 0.648), (0.200, 0.655), (0.046, 0.642),
    (0.101, 0.635), (-0.151, 0.642), (-0.042, 0.632), (-0.107, 0.619), (-0.053, 0.622), (0.035, 0.614),
    (0.134, 0.606), (-0.064, 0.606), (0.101, 0.600), (0.167, 0.587), (-0.042, 0.587), (-0.129, 0.583),
    (0.101, 0.572), (-0.118, 0.558), (-0.053, 0.532), (-0.107, 0.519), (-0.042, 0.516), (-0.075, 0.503),
    (-0.075, 0.493), (0.101, 0.490), (0.189, 0.509), (-0.140, 0.451), (-0.064, 0.441), (-0.086, 0.425),
    (-0.107, 0.425), (-0.042, 0.432), (-0.064, 0.409), (0.057, 0.421), (0.112, 0.455), (0.200, 0.404),
    (0.035, 0.373), (0.002, 0.341), (0.024, 0.328), (0.057, 0.322), (-0.042, 0.309), (-0.053, 0.306),
    (-0.020, 0.293), (0.024, 0.259), (0.013, 0.194), (0.068, 0.158), (0.079, 0.128), (-0.140, 0.112),
    (-0.107, 0.112),
    (-0.10, 0.985), (-0.04, 0.988), (0.03, 0.983), (-0.13, 0.965), (-0.06, 0.968), (0.00, 0.960), (-0.10, 0.948),
    (-0.02, 0.945), (0.04, 0.938), (-0.07, 0.925), (0.01, 0.915), (-0.13, 0.905), (-0.04, 0.895), (0.03, 0.900),
    (-0.09, 0.880), (-0.01, 0.865), (-0.11, 0.850), (-0.03, 0.840), (0.05, 0.835), (-0.08, 0.820), (-0.02, 0.795),
    (-0.09, 0.790), (-0.03, 0.760), (-0.08, 0.735), (0.00, 0.720), (-0.04, 0.698), (-0.10, 0.690), (-0.02, 0.675),
    (0.02, 0.660), (-0.08, 0.645), (0.00, 0.628), (-0.04, 0.610), (0.03, 0.595), (-0.07, 0.570), (0.02, 0.545),
    (-0.09, 0.540),
]

group_points = [single_pts, orange_pts, yellow_pts, green_pts, blue_pts, pink_pts]

# actor icons under the clouds
icon_y = 0.135
horiz_offsets = [[0.0], [-0.1, 0.1], [-0.2, 0.0, 0.2], [-0.3, -0.1, 0.1, 0.3]]
horiz_fill = ["#6EAFDC", "#F0A582", "#F7D789", "#C096C8"]
vert_levels = [0.17, 0.10]
vert_fill = [["white", "#A5DCF0"], ["#D28291", "white"]]

y_ticks = [0, 0.1, 0.2, 0.3, 0.4, 0.5, 0.6, 0.7, 0.8, 0.9, 1]
y_tick_labels = ["0", "0.1", "0.2", "0.3", "0.4", "0.5", "0.6", "0.7", "0.8", "0.9", "1"]

serif = "Liberation Serif"
sans = "Liberation Sans"

fig = plt.figure(figsize=(9.98, 8.02), dpi=100)
ax = fig.add_axes([106 / 998, 74 / 802, 892 / 998, 641 / 802])
ax.set_xlim(0.507, 6.375)
ax.set_ylim(0, 1)

for pos, pts, col in zip(group_pos, group_points, bar_colors):
    dx = np.array([p[0] for p in pts])
    yy = np.array([p[1] for p in pts])
    ax.scatter(pos + dx, yy, s=30, facecolors="none", edgecolors=col,
               alpha=0.26, linewidths=1.1, clip_on=False, zorder=2)

for pos, lo, hi, col in zip(group_pos, interval_low, interval_high, bar_colors):
    ax.errorbar(pos, (lo + hi) / 2, yerr=(hi - lo) / 2, fmt="none", ecolor=col,
                elinewidth=2.4, capsize=4.3, capthick=2.4, zorder=3)

for pos, offs, fc in zip(group_pos[:4], horiz_offsets, horiz_fill):
    xs = [pos + o for o in offs]
    ax.plot(xs, [icon_y] * len(xs), color="#1a1a1a", lw=1.2, zorder=4)
    ax.plot(xs, [icon_y] * len(xs), ls="none", marker="s", ms=9.5,
            mfc=fc, mec="#1a1a1a", mew=1.5, zorder=5)

for pos, fills in zip(group_pos[4:], vert_fill):
    ax.plot([pos, pos], vert_levels, color="#1a1a1a", lw=1.2, zorder=4)
    for lev, fc in zip(vert_levels, fills):
        ax.plot(pos, lev, ls="none", marker="s", ms=9.5, mfc=fc,
                mec="#1a1a1a", mew=1.5, zorder=5)


def brace(x0, x1, xm, y_end, y_mid, y_tip, ew, mw):
    verts = [(x0, y_end), (x0, y_mid), (x0 + ew, y_mid), (xm - mw, y_mid),
             (xm, y_mid), (xm, y_tip), (xm, y_mid), (xm + mw, y_mid),
             (x1 - ew, y_mid), (x1, y_mid), (x1, y_end)]
    codes = [Path.MOVETO, Path.CURVE3, Path.CURVE3, Path.LINETO,
             Path.CURVE3, Path.CURVE3, Path.CURVE3, Path.CURVE3,
             Path.LINETO, Path.CURVE3, Path.CURVE3]
    patch = PathPatch(Path(verts, codes), fc="none", ec="#1a1a1a", lw=1.3,
                      clip_on=False, zorder=6)
    ax.add_patch(patch)


# top braces
brace(1.737, 4.362, 3.04, 1.0, 1.031, 1.073, 0.24, 0.28)
brace(4.757, 6.243, 5.493, 1.0, 1.031, 1.073, 0.21, 0.26)
# bottom braces
brace(0.691, 1.362, 1.033, 0.061, 0.033, 0.0, 0.15, 0.16)
brace(1.862, 4.388, 3.145, 0.061, 0.033, 0.0, 0.22, 0.28)
brace(4.691, 5.355, 5.026, 0.061, 0.033, 0.0, 0.15, 0.16)
brace(5.697, 6.362, 6.033, 0.061, 0.033, 0.0, 0.15, 0.16)

txt = dict(fontsize=21, family=serif, ha="center", va="baseline", clip_on=False)
ax.text(3.04, 1.089, "Horizontal", **txt)
ax.text(5.493, 1.089, "Vertical", **txt)
ax.text(1.033, -0.0484, "Single actor", **txt)
ax.text(3.13, -0.0484, "Multiple actors", **txt)
ax.text(5.007, -0.0484, "On-ground", **txt)
ax.text(5.007, -0.1076, "actor", **txt)
ax.text(6.03, -0.0484, "Funding", **txt)
ax.text(6.03, -0.1076, "actor", **txt)

fig.text(25 / 998, 0.50, "Correlation between objectives and spending", rotation=90,
         ha="center", va="center", fontsize=21, family=serif)

for side in ["top", "right", "bottom"]:
    ax.spines[side].set_visible(False)
ax.spines["left"].set_color("#737373")
ax.spines["left"].set_linewidth(0.9)
ax.set_xticks([])
ax.set_yticks(y_ticks)
ax.set_yticklabels(y_tick_labels, family=sans, fontsize=12.5, color="#262626")
ax.tick_params(axis="y", direction="in", length=6.5, width=0.9, color="#737373", pad=6)

fig.savefig("out.png", dpi=100)
